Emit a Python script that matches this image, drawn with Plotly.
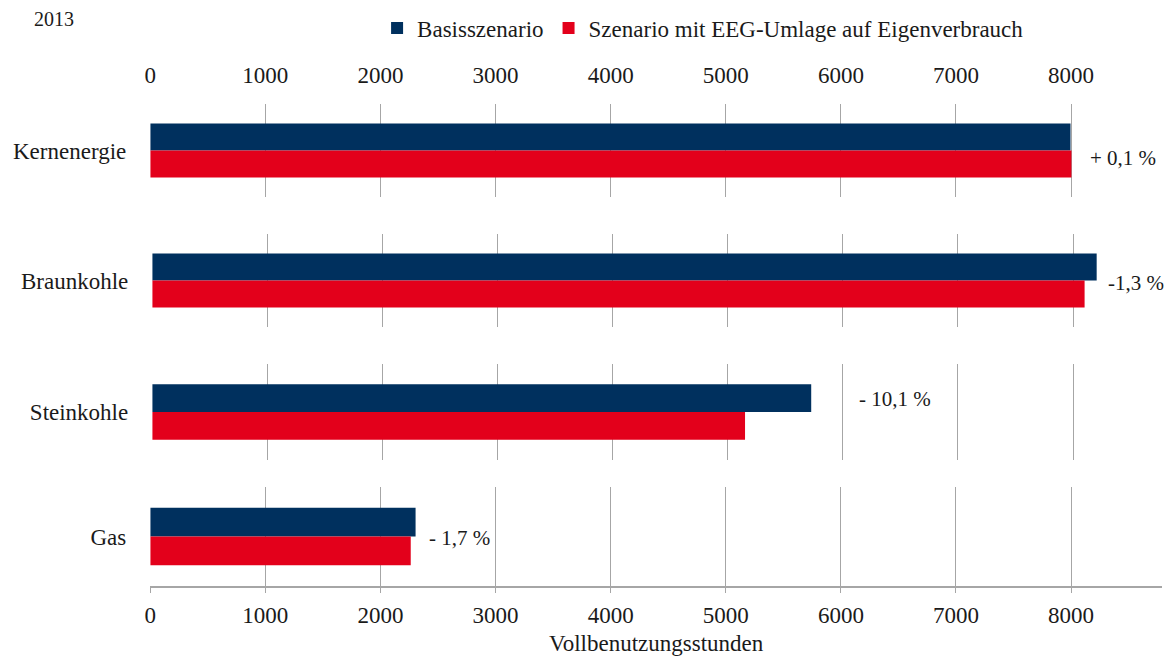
import plotly.graph_objects as go

categories = ["Kernenergie", "Braunkohle", "Steinkohle", "Gas"]
basis = [7995, 8205, 5725, 2305]
eeg = [8003, 8100, 5150, 2263]
change_labels = ["+ 0,1 %", "-1,3 %", "- 10,1 %", "- 1,7 %"]
series_names = ["Basisszenario", "Szenario mit EEG-Umlage auf Eigenverbrauch"]
tick_values = [0, 1000, 2000, 3000, 4000, 5000, 6000, 7000, 8000]
year_label = "2013"
axis_title = "Vollbenutzungsstunden"

# layout-only positions (label placement, panel pixel domains)
label_x = [8150, 8290, 6120, 2400]
label_y = [0.08, 0.03, -0.14, 0.02]
W, H = 1167, 659
panel_px_y = [(104, 197), (234, 327), (364, 460), (487, 586)]
panel_px_x = [(145, 1162), (147, 1164), (147, 1164), (145, 1162)]

NAVY = "#00305e"
RED = "#e3001b"
GRID = "#a6a6a6"
FONT = "Liberation Serif"
TXT = "#1a1a1a"
FS = 23
XMAX = 8790

fig = go.Figure()
for i, cat in enumerate(categories):
    n = "" if i == 0 else str(i + 1)
    fig.add_trace(go.Bar(
        y=[cat], x=[basis[i]], orientation="h", name=series_names[0],
        marker=dict(color=NAVY, line=dict(width=0)), legendgroup="b",
        showlegend=(i == 0), xaxis="x" + n, yaxis="y" + n, hoverinfo="x"))
    fig.add_trace(go.Bar(
        y=[cat], x=[eeg[i]], orientation="h", name=series_names[1],
        marker=dict(color=RED, line=dict(width=0)), legendgroup="e",
        showlegend=(i == 0), xaxis="x" + n, yaxis="y" + n, hoverinfo="x"))

layout = dict(
    width=W, height=H,
    margin=dict(l=0, r=0, t=0, b=0),
    paper_bgcolor="white", plot_bgcolor="white",
    barmode="group", bargap=0.42, bargroupgap=0,
    font=dict(family=FONT, size=FS, color=TXT),
    showlegend=True,
    legend=dict(orientation="h", x=373 / W, y=1 - 28 / H, xanchor="left", yanchor="middle",
                font=dict(family=FONT, size=FS, color=TXT),
                itemwidth=30, traceorder="normal", bgcolor="rgba(0,0,0,0)"),
)

annotations = [dict(text=year_label, x=26 / W, y=1 - 19 / H, xref="paper", yref="paper",
                    xanchor="left", yanchor="middle", showarrow=False,
                    font=dict(family=FONT, size=20, color=TXT))]

for i, cat in enumerate(categories):
    n = "" if i == 0 else str(i + 1)
    y0, y1 = panel_px_y[i]
    x0, x1 = panel_px_x[i]
    xa = dict(domain=[x0 / W, x1 / W], range=[0, XMAX], tickvals=tick_values,
              showgrid=True, gridcolor=GRID, gridwidth=1.4, zeroline=False,
              showline=False, anchor="y" + n, fixedrange=True,
              tickfont=dict(family=FONT, size=FS, color=TXT))
    if i == 0:
        xa.update(side="top", showticklabels=True, ticks="", ticklabelstandoff=15)
    elif i == len(categories) - 1:
        xa.update(side="bottom", showticklabels=True, showline=True, linecolor=GRID,
                  linewidth=2, ticks="outside", ticklen=5, tickcolor=GRID, tickwidth=1.4,
                  ticklabelstandoff=2,
                  title=dict(text=axis_title, standoff=8,
                             font=dict(family=FONT, size=FS, color=TXT)))
    else:
        xa.update(showticklabels=False, ticks="")
    ya = dict(domain=[1 - y1 / H, 1 - y0 / H], anchor="x" + n, type="category",
              range=[0.5, -0.5], showgrid=False, zeroline=False, showline=False,
              ticks="", ticklabelstandoff=23, fixedrange=True,
              tickfont=dict(family=FONT, size=FS, color=TXT))
    layout["xaxis" + n] = xa
    layout["yaxis" + n] = ya
    annotations.append(dict(text=change_labels[i], x=label_x[i], y=label_y[i],
                            xref="x" + n, yref="y" + n, xanchor="left", yanchor="middle",
                            showarrow=False,
                            font=dict(family=FONT, size=21, color=TXT)))

layout["annotations"] = annotations
fig.update_layout(**layout)
fig.write_html("out.html", config={"displayModeBar": False},
               post_script="document.body.style.margin='0';document.body.style.overflow='hidden';")
